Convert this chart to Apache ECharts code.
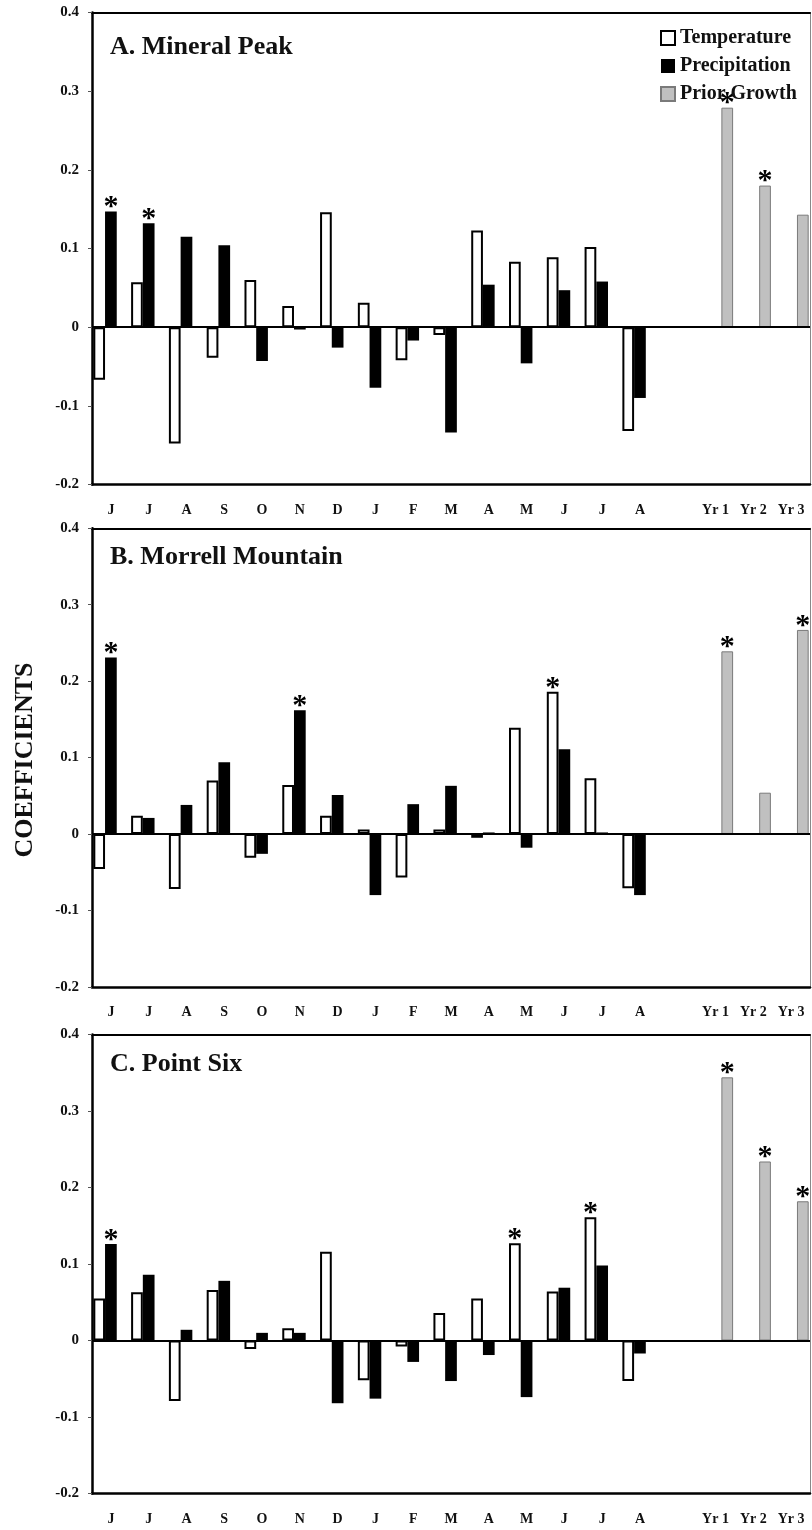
<!DOCTYPE html>
<html>
<head>
<meta charset="utf-8">
<script src="https://cdn.jsdelivr.net/npm/echarts@6/dist/echarts.min.js"></script>
<style>html,body{margin:0;padding:0;background:#fff;}#c{width:812px;height:1530px;}</style>
</head>
<body>
<div id="c"></div>
<script>
var categories = ['J','J','A','S','O','N','D','J','F','M','A','M','J','J','A','','Yr 1','Yr 2','Yr 3'];
var seriesNames = ['Temperature','Precipitation','Prior Growth'];
var panelTitles = ['A. Mineral Peak','B. Morrell Mountain','C. Point Six'];
var yTicks = [-0.2, -0.1, 0, 0.1, 0.2, 0.3, 0.4];

var tempA = [-0.067, 0.057, -0.148, -0.039, 0.060, 0.027, 0.146, 0.031, -0.042, -0.010, 0.123, 0.083, 0.089, 0.102, -0.132];
var precA = [0.147, 0.132, 0.115, 0.104, -0.043, -0.003, -0.026, -0.077, -0.017, -0.134, 0.054, -0.046, 0.047, 0.058, -0.090];
var priorA = [0.279, 0.180, 0.143];

var tempB = [-0.046, 0.024, -0.072, 0.070, -0.031, 0.064, 0.024, 0.006, -0.057, 0.006, -0.005, 0.139, 0.186, 0.073, -0.071];
var precB = [0.231, 0.021, 0.038, 0.094, -0.026, 0.162, 0.051, -0.080, 0.039, 0.063, 0.002, -0.018, 0.111, 0.002, -0.080];
var priorB = [0.239, 0.054, 0.267];

var tempC = [0.055, 0.063, -0.079, 0.066, -0.011, 0.016, 0.116, -0.052, -0.008, 0.036, 0.055, 0.127, 0.064, 0.161, -0.053];
var precC = [0.126, 0.086, 0.014, 0.078, 0.010, 0.010, -0.082, -0.076, -0.028, -0.053, -0.019, -0.074, 0.069, 0.098, -0.017];
var priorC = [0.344, 0.234, 0.182];

// indices of significant coefficients (marked with *)
var sigTempA = [], sigPrecA = [0, 1], sigPriorA = [0, 1];
var sigTempB = [12], sigPrecB = [0, 5], sigPriorB = [0, 2];
var sigTempC = [11, 13], sigPrecC = [0], sigPriorC = [0, 1, 2];

var FONT = '"Liberation Serif", "Times New Roman", serif';
var panels = [
  {temp: tempA, prec: precA, prior: priorA, sig: [sigTempA, sigPrecA, sigPriorA], top: 12.5, height: 472, titleTop: 22},
  {temp: tempB, prec: precB, prior: priorB, sig: [sigTempB, sigPrecB, sigPriorB], top: 528.3, height: 458.5, titleTop: 16},
  {temp: tempC, prec: precC, prior: priorC, sig: [sigTempC, sigPrecC, sigPriorC], top: 1034.5, height: 459, titleTop: 17}
];

var nMonths = 15;
function buildMonthly(vals, sig) {
  var out = [];
  for (var i = 0; i < categories.length; i++) {
    if (i < nMonths) {
      var v = vals[i];
      out.push(sig.indexOf(i) >= 0 ? {value: v, label: {show: true}} : v);
    } else out.push('-');
  }
  return out;
}
function buildPrior(vals, sig) {
  var out = [];
  for (var i = 0; i < categories.length; i++) {
    var k = i - (nMonths + 1);
    if (k >= 0) {
      out.push(sig.indexOf(k) >= 0 ? {value: vals[k], label: {show: true}} : vals[k]);
    } else out.push('-');
  }
  return out;
}

var starLabel = {show: false, position: 'top', distance: -11, formatter: '*', color: '#000', fontSize: 30, fontFamily: FONT, fontWeight: 'bold'};

var grid = [], xAxis = [], yAxis = [], series = [], graphic = [];
panels.forEach(function (p, idx) {
  grid.push({left: 92, right: 2, top: p.top, height: p.height, containLabel: false});
  xAxis.push({
    type: 'category', gridIndex: idx, data: categories, position: 'bottom',
    axisLine: {onZero: false, lineStyle: {color: '#000', width: 2.5}},
    axisTick: {show: false},
    axisLabel: {interval: 0, margin: 19, color: '#111', fontSize: 14, fontWeight: 'bold', fontFamily: FONT},
    splitLine: {show: false}
  });
  xAxis.push({
    type: 'category', gridIndex: idx, data: categories, position: 'top',
    axisLine: {onZero: false, lineStyle: {color: '#000', width: 2}},
    axisTick: {show: false}, axisLabel: {show: false}, splitLine: {show: false}
  });
  yAxis.push({
    type: 'value', gridIndex: idx, min: yTicks[0], max: yTicks[yTicks.length - 1], interval: 0.1,
    position: 'left',
    axisLine: {show: true, onZero: false, lineStyle: {color: '#000', width: 2.5}},
    axisTick: {show: true, length: 4, lineStyle: {color: '#555', width: 1}},
    axisLabel: {margin: 13, color: '#111', fontSize: 15, fontWeight: 'bold', fontFamily: FONT,
      formatter: function (v) { return String(Math.round(v * 10) / 10); }},
    splitLine: {show: false}
  });
  yAxis.push({
    type: 'value', gridIndex: idx, min: yTicks[0], max: yTicks[yTicks.length - 1], interval: 0.1,
    position: 'right',
    axisLine: {show: true, onZero: false, lineStyle: {color: '#888', width: 1}},
    axisTick: {show: false}, axisLabel: {show: false}, splitLine: {show: false}
  });
  var xi = idx * 2, yi = idx * 2;
  series.push({
    name: seriesNames[0], type: 'bar', xAxisIndex: xi, yAxisIndex: yi,
    data: buildMonthly(p.temp, p.sig[0]), barGap: '0%', barCategoryGap: '7%',
    itemStyle: {color: '#fff', borderColor: '#000', borderWidth: 2},
    label: starLabel,
    markLine: {silent: true, symbol: ['none', 'none'], label: {show: false},
      lineStyle: {color: '#000', width: 2, type: 'solid'}, data: [{yAxis: 0}], animation: false}
  });
  series.push({
    name: seriesNames[1], type: 'bar', xAxisIndex: xi, yAxisIndex: yi,
    data: buildMonthly(p.prec, p.sig[1]), barGap: '0%', barCategoryGap: '7%',
    itemStyle: {color: '#000', borderColor: '#000', borderWidth: 0},
    label: starLabel
  });
  series.push({
    name: seriesNames[2], type: 'bar', xAxisIndex: xi, yAxisIndex: yi,
    data: buildPrior(p.prior, p.sig[2]), barGap: '0%', barCategoryGap: '7%',
    itemStyle: {color: '#c0c0c0', borderColor: '#7a7a7a', borderWidth: 1},
    label: starLabel
  });
  graphic.push({
    type: 'text', left: 110, top: p.top + p.titleTop,
    style: {text: panelTitles[idx], fill: '#111', fontSize: 26, fontWeight: 'bold', fontFamily: FONT}
  });
});

graphic.push({
  type: 'text', x: 25, y: 760, rotation: Math.PI / 2,
  style: {text: 'COEFFICIENTS', fill: '#111', fontSize: 26, fontWeight: 'bold', fontFamily: FONT,
    align: 'center', verticalAlign: 'middle'}
});

var chart = echarts.init(document.getElementById('c'), null, {renderer: 'canvas'});
chart.setOption({
  animation: false,
  backgroundColor: '#fff',
  legend: {
    data: seriesNames, orient: 'vertical', left: 655, top: 23,
    itemWidth: 14, itemHeight: 14, itemGap: 8, icon: 'rect', selectedMode: false,
    textStyle: {fontSize: 20, fontWeight: 'bold', fontFamily: FONT, color: '#111'}
  },
  grid: grid, xAxis: xAxis, yAxis: yAxis, series: series, graphic: graphic
});
</script>
</body>
</html>
